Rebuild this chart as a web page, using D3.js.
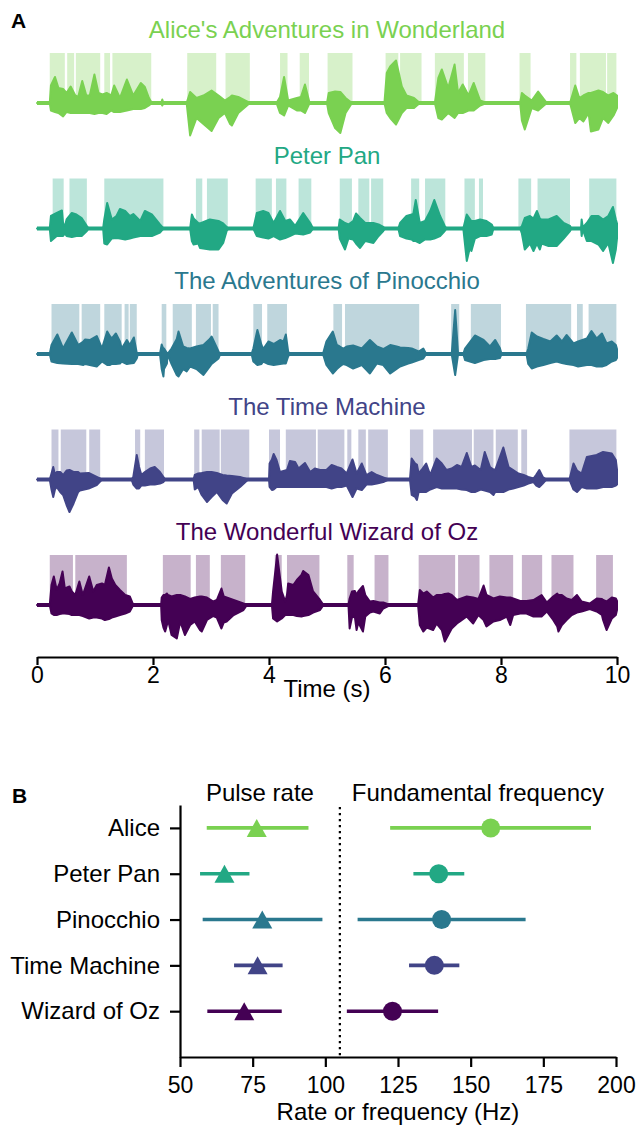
<!DOCTYPE html>
<html>
<head>
<meta charset="utf-8">
<script src="https://cdn.jsdelivr.net/npm/d3@7"></script>
<style>
  body { margin: 0; background: #fff; }
  svg { font-family: "Liberation Sans", Arial, sans-serif; }
</style>
</head>
<body>
<svg id="fig" width="637" height="1131"></svg>
<script>
// ---------- data ----------
const books = ["Alice's Adventures in Wonderland", "Peter Pan", "The Adventures of Pinocchio", "The Time Machine", "The Wonderful Wizard of Oz"];
const shortNames = ["Alice", "Peter Pan", "Pinocchio", "Time Machine", "Wizard of Oz"];
const colors = ["#7ad151", "#22a884", "#2a788e", "#414487", "#440154"];
const timeTicks = [0, 2, 4, 6, 8, 10];
const rateTicks = [50, 75, 100, 125, 150, 175, 200];

// voiced intervals (s)
const aliceSegments = [[0.22,0.49],[0.52,0.65],[0.67,1.10],[1.16,1.27],[1.30,1.98],[2.59,3.10],[3.25,3.68],[4.19,4.33],[4.53,4.70],[5.01,5.45],[6.01,6.24],[6.26,6.64],[6.86,7.37],[7.43,7.74],[8.32,8.52],[9.19,9.31],[9.36,9.82],[9.83,10.0]];
const peterSegments = [[0.27,0.47],[0.56,0.87],[1.16,2.19],[2.74,2.86],[2.93,3.30],[3.77,4.06],[4.12,4.31],[4.51,4.74],[5.22,5.44],[5.54,5.74],[5.76,5.98],[6.45,6.60],[6.69,7.05],[7.37,7.56],[7.62,7.70],[8.30,8.53],[8.63,9.20],[9.52,10.0]];
const pinocchioSegments = [[0.25,0.74],[0.77,1.10],[1.16,1.47],[1.51,1.59],[1.60,1.73],[2.15,2.24],[2.34,2.68],[2.74,3.01],[3.03,3.14],[3.73,3.89],[3.97,4.32],[5.11,5.27],[5.31,6.60],[7.14,7.29],[7.48,8.01],[8.43,9.22],[9.31,9.42],[9.51,10.0]];
const timeMachineSegments = [[0.25,0.38],[0.41,0.86],[0.90,1.10],[1.69,1.79],[1.86,2.20],[2.71,2.81],[2.84,3.16],[3.17,3.67],[4.00,4.20],[4.29,4.82],[4.84,5.31],[5.35,5.43],[5.54,5.68],[5.71,6.06],[6.43,6.67],[6.83,7.51],[7.53,7.88],[7.91,8.30],[8.35,8.46],[9.18,10.0]];
const ozSegments = [[0.22,0.63],[0.66,1.56],[2.17,2.66],[2.74,2.99],[3.17,3.60],[4.10,4.23],[4.31,4.88],[5.35,5.47],[5.82,6.07],[6.58,7.22],[7.26,7.64],[7.80,8.22],[8.36,8.72],[8.87,9.26],[9.64,9.94]];

// waveform envelopes: [time (s), upper amplitude, lower amplitude]
const aliceEnvelope = [[0,0,0],[0.22,0,0],[0.24,0.35,-0.15],[0.31,0.52,-0.18],[0.37,0.3,-0.2],[0.45,0.28,-0.27],[0.51,0.2,-0.18],[0.58,0.33,-0.2],[0.66,0.15,-0.2],[0.71,0.12,-0.2],[0.78,0.44,-0.2],[0.85,0.15,-0.2],[0.91,0.15,-0.2],[0.99,0.57,-0.22],[1.06,0.2,-0.2],[1.13,0.17,-0.2],[1.20,0.2,-0.22],[1.28,0.15,-0.15],[1.33,0.35,-0.18],[1.43,0.1,-0.18],[1.55,0.47,-0.15],[1.66,0.15,-0.12],[1.79,0.4,-0.12],[1.86,0.32,-0.1],[1.93,0.1,-0.05],[1.98,0,0],[2.14,0,0],[2.16,0.07,-0.05],[2.18,0,0],[2.58,0,0],[2.64,0.22,-0.65],[2.75,0.1,-0.3],[2.87,0.15,-0.42],[3.01,0.25,-0.56],[3.13,0.15,-0.3],[3.24,0.05,-0.2],[3.33,0.12,-0.42],[3.36,0.15,-0.45],[3.47,0.12,-0.2],[3.67,0,0],[4.13,0,0],[4.19,0.12,-0.2],[4.26,0.52,-0.25],[4.33,0.05,-0.05],[4.48,0.1,-0.15],[4.55,0.12,-0.15],[4.62,0.37,-0.2],[4.70,0,0],[5.0,0,0],[5.03,0.2,-0.2],[5.14,0.23,-0.5],[5.23,0.22,-0.6],[5.32,0.1,-0.2],[5.43,0,0],[5.99,0,0],[6.03,0.6,-0.2],[6.09,0.73,-0.3],[6.19,0.85,-0.43],[6.29,0.33,-0.2],[6.37,0.15,-0.1],[6.50,0.1,-0.1],[6.60,0,0],[6.86,0,0],[6.92,0.5,-0.3],[6.98,0.67,-0.33],[7.09,0.3,-0.2],[7.20,0.77,-0.3],[7.26,0.2,-0.2],[7.34,0.37,-0.2],[7.44,0.15,-0.15],[7.53,0.4,-0.15],[7.64,0.05,-0.05],[7.75,0,0],[8.33,0,0],[8.36,0.2,-0.35],[8.41,0.15,-0.53],[8.53,0.05,-0.1],[8.64,0.23,-0.15],[8.79,0,0],[9.19,0,0],[9.28,0.35,-0.4],[9.35,0.1,-0.3],[9.42,0.15,-0.37],[9.51,0.2,-0.2],[9.55,0.2,-0.57],[9.68,0.25,-0.53],[9.76,0.22,-0.3],[9.85,0.15,-0.4],[9.94,0.2,-0.25],[10,0.15,-0.1]];
const peterEnvelope = [[0,0,0],[0.22,0,0],[0.24,0.25,-0.25],[0.34,0.31,-0.15],[0.43,0.36,-0.15],[0.45,0.1,-0.15],[0.48,0.05,-0.1],[0.51,0.18,-0.15],[0.60,0.31,-0.17],[0.68,0.28,-0.15],[0.77,0.21,-0.15],[0.86,0.05,-0.05],[0.89,0,0],[1.14,0,0],[1.16,0.18,-0.3],[1.21,0.51,-0.32],[1.29,0.18,-0.2],[1.37,0.25,-0.19],[1.43,0.39,-0.2],[1.52,0.35,-0.22],[1.60,0.25,-0.2],[1.66,0.29,-0.18],[1.78,0.15,-0.15],[1.86,0.35,-0.15],[1.98,0.28,-0.15],[2.12,0.08,-0.08],[2.18,0,0],[2.64,0,0],[2.67,0.28,-0.25],[2.70,0.2,-0.32],[2.78,0.11,-0.3],[2.81,0.1,-0.39],[2.98,0.18,-0.42],[3.13,0.15,-0.42],[3.21,0.1,-0.29],[3.27,0.03,-0.05],[3.30,0,0],[3.73,0,0],[3.79,0.31,-0.15],[3.90,0.35,-0.18],[3.99,0.31,-0.2],[4.08,0.11,-0.15],[4.19,0.35,-0.22],[4.28,0.15,-0.19],[4.36,0.18,-0.15],[4.45,0.05,-0.1],[4.59,0.31,-0.12],[4.71,0.11,-0.08],[4.76,0,0],[5.20,0,0],[5.22,0.18,-0.2],[5.31,0.11,-0.42],[5.37,0.08,-0.2],[5.45,0.15,-0.22],[5.50,0.3,-0.3],[5.57,0.21,-0.39],[5.66,0.11,-0.25],[5.80,0.11,-0.29],[5.89,0.08,-0.15],[5.97,0.03,-0.05],[6.00,0,0],[6.23,0,0],[6.26,0.11,-0.15],[6.37,0.25,-0.2],[6.46,0.28,-0.22],[6.49,0.3,-0.25],[6.53,0.57,-0.25],[6.60,0.11,-0.29],[6.69,0.15,-0.22],[6.78,0.35,-0.22],[6.85,0.57,-0.2],[6.95,0.25,-0.15],[7.03,0.05,-0.05],[7.06,0,0],[7.35,0,0],[7.41,0.28,-0.65],[7.47,0.18,-0.35],[7.49,0.15,-0.45],[7.55,0.15,-0.2],[7.64,0.18,-0.15],[7.75,0.15,-0.15],[7.84,0.08,-0.12],[7.87,0,0],[8.33,0,0],[8.36,0.05,-0.1],[8.41,0.21,-0.42],[8.50,0.25,-0.3],[8.56,0.2,-0.45],[8.62,0.35,-0.3],[8.67,0.2,-0.42],[8.70,0.18,-0.3],[8.82,0.18,-0.35],[8.96,0.25,-0.35],[9.08,0.11,-0.2],[9.19,0.05,-0.05],[9.21,0,0],[9.38,0,0],[9.39,0.18,-0.15],[9.41,0.02,-0.02],[9.48,0.11,-0.25],[9.56,0.25,-0.25],[9.68,0.25,-0.32],[9.76,0.18,-0.45],[9.85,0.25,-0.29],[9.93,0.43,-0.69],[9.98,0.18,-0.42],[10,0.1,-0.2]];
const pinocchioEnvelope = [[0,0,0],[0.22,0,0],[0.25,0.18,-0.15],[0.35,0.39,-0.18],[0.45,0.11,-0.19],[0.60,0.43,-0.2],[0.71,0.18,-0.2],[0.80,0.25,-0.22],[0.83,0.29,-0.2],[0.91,0.28,-0.22],[1.03,0.36,-0.25],[1.12,0.11,-0.15],[1.21,0.45,-0.22],[1.26,0.35,-0.22],[1.29,0.31,-0.2],[1.36,0.41,-0.2],[1.43,0.25,-0.19],[1.46,0.11,-0.15],[1.55,0.28,-0.2],[1.60,0.18,-0.19],[1.67,0.33,-0.18],[1.72,0.02,-0.09],[1.74,0,0],[2.12,0,0],[2.15,0.19,-0.3],[2.18,0.1,-0.45],[2.19,0.11,-0.3],[2.24,0.02,-0.19],[2.25,0,0],[2.32,0.11,-0.2],[2.41,0.3,-0.42],[2.44,0.45,-0.45],[2.52,0.15,-0.3],[2.58,0.12,-0.35],[2.64,0.11,-0.25],[2.75,0.15,-0.3],[2.87,0.18,-0.42],[2.98,0.3,-0.25],[3.01,0.35,-0.2],[3.13,0.05,-0.09],[3.16,0,0],[3.70,0,0],[3.73,0.11,-0.15],[3.80,0.48,-0.22],[3.87,0.18,-0.2],[3.90,0.1,-0.15],[3.99,0.25,-0.2],[4.08,0.2,-0.22],[4.19,0.28,-0.2],[4.25,0.25,-0.19],[4.29,0.39,-0.19],[4.33,0.05,-0.05],[4.36,0,0],[4.93,0,0],[4.99,0.25,-0.22],[5.10,0.45,-0.39],[5.17,0.18,-0.3],[5.22,0.15,-0.25],[5.28,0.11,-0.2],[5.34,0.15,-0.22],[5.45,0.17,-0.29],[5.60,0.11,-0.22],[5.74,0.28,-0.39],[5.86,0.15,-0.19],[5.97,0.1,-0.22],[6.09,0.18,-0.39],[6.20,0.15,-0.3],[6.26,0.13,-0.25],[6.40,0.12,-0.19],[6.46,0.11,-0.17],[6.58,0.05,-0.12],[6.66,0.11,-0.09],[6.71,0,0],[7.15,0,0],[7.21,0.88,-0.42],[7.26,0,0],[7.35,0,0],[7.38,0.11,-0.12],[7.55,0.37,-0.18],[7.70,0.28,-0.12],[7.81,0.15,-0.1],[7.90,0.28,-0.1],[7.98,0.12,-0.08],[8.01,0,0],[8.44,0,0],[8.47,0.11,-0.2],[8.53,0.43,-0.29],[8.62,0.35,-0.25],[8.73,0.3,-0.22],[8.85,0.25,-0.18],[8.96,0.37,-0.15],[9.05,0.25,-0.18],[9.13,0.38,-0.2],[9.25,0.21,-0.22],[9.33,0.25,-0.25],[9.48,0.31,-0.22],[9.56,0.46,-0.22],[9.65,0.31,-0.25],[9.74,0.41,-0.25],[9.82,0.21,-0.22],[9.91,0.25,-0.15],[9.98,0.18,-0.12],[10,0.1,-0.08]];
const timeMachineEnvelope = [[0,0,0],[0.22,0,0],[0.25,0.12,-0.2],[0.28,0.25,-0.35],[0.31,0.09,-0.2],[0.34,0.15,-0.15],[0.40,0.15,-0.25],[0.45,0.09,-0.31],[0.51,0.18,-0.51],[0.56,0.19,-0.65],[0.63,0.15,-0.48],[0.71,0.15,-0.25],[0.74,0.12,-0.22],[0.89,0.13,-0.18],[1.03,0.05,-0.11],[1.12,0,0],[1.63,0,0],[1.66,0.05,-0.1],[1.72,0.49,-0.18],[1.76,0.25,-0.18],[1.80,0.09,-0.12],[1.86,0.15,-0.12],[1.95,0.22,-0.1],[2.03,0.25,-0.1],[2.12,0.15,-0.08],[2.18,0.05,-0.05],[2.21,0,0],[2.70,0,0],[2.72,0.09,-0.2],[2.78,0.12,-0.15],[2.84,0.13,-0.31],[2.93,0.15,-0.45],[3.01,0.15,-0.35],[3.10,0.13,-0.25],[3.20,0.09,-0.41],[3.27,0.08,-0.48],[3.36,0.07,-0.28],[3.50,0.05,-0.15],[3.64,0,0],[4.00,0,0],[4.01,0.32,-0.15],[4.05,0.4,-0.21],[4.08,0.51,-0.2],[4.13,0.39,-0.15],[4.19,0.15,-0.15],[4.31,0.19,-0.15],[4.36,0.37,-0.15],[4.45,0.35,-0.15],[4.51,0.22,-0.15],[4.62,0.33,-0.15],[4.71,0.15,-0.15],[4.79,0.22,-0.15],[4.88,0.19,-0.15],[4.99,0.19,-0.15],[5.08,0.29,-0.18],[5.17,0.25,-0.15],[5.25,0.22,-0.15],[5.34,0.12,-0.12],[5.44,0.4,-0.35],[5.51,0.12,-0.18],[5.60,0.32,-0.21],[5.68,0.09,-0.1],[5.77,0.15,-0.1],[5.86,0.09,-0.08],[5.97,0.04,-0.05],[6.06,0,0],[6.43,0,0],[6.46,0.42,-0.31],[6.52,0.32,-0.35],[6.55,0.3,-0.41],[6.58,0.12,-0.25],[6.63,0.19,-0.25],[6.71,0.32,-0.25],[6.78,0.09,-0.2],[6.89,0.42,-0.15],[6.98,0.32,-0.18],[7.06,0.19,-0.18],[7.15,0.22,-0.18],[7.24,0.29,-0.18],[7.32,0.25,-0.2],[7.41,0.53,-0.21],[7.49,0.25,-0.25],[7.55,0.28,-0.25],[7.65,0.19,-0.2],[7.72,0.55,-0.22],[7.81,0.25,-0.25],[7.87,0.2,-0.31],[7.90,0.19,-0.25],[8.04,0.64,-0.25],[8.13,0.25,-0.2],[8.21,0.19,-0.18],[8.30,0.12,-0.15],[8.39,0.09,-0.12],[8.47,0.05,-0.08],[8.56,0.02,-0.05],[8.61,0.1,-0.12],[8.66,0.19,-0.15],[8.72,0.05,-0.08],[8.78,0,0],[9.18,0,0],[9.25,0.32,-0.2],[9.31,0.18,-0.25],[9.39,0.12,-0.15],[9.48,0.45,-0.18],[9.65,0.49,-0.18],[9.76,0.55,-0.15],[9.91,0.52,-0.15],[9.98,0.39,-0.12],[10,0.2,-0.1]];
const ozEnvelope = [[0,0,0],[0.22,0,0],[0.25,0.4,-0.17],[0.29,0.57,-0.2],[0.34,0.3,-0.2],[0.39,0.43,-0.18],[0.44,0.67,-0.17],[0.48,0.33,-0.17],[0.56,0.37,-0.18],[0.60,0.27,-0.2],[0.66,0.2,-0.2],[0.73,0.47,-0.2],[0.79,0.2,-0.22],[0.90,0.57,-0.27],[0.97,0.27,-0.25],[1.03,0.4,-0.25],[1.12,0.43,-0.27],[1.17,0.4,-0.3],[1.24,0.75,-0.28],[1.29,0.53,-0.25],[1.35,0.4,-0.23],[1.43,0.3,-0.2],[1.52,0.2,-0.17],[1.60,0.17,-0.13],[1.66,0,0],[2.14,0,0],[2.15,0.15,-0.3],[2.18,0.2,-0.45],[2.21,0.2,-0.53],[2.24,0.23,-0.4],[2.26,0.2,-0.3],[2.32,0.17,-0.6],[2.41,0.2,-0.67],[2.47,0.2,-0.33],[2.55,0.17,-0.6],[2.64,0.12,-0.4],[2.72,0.15,-0.33],[2.81,0.17,-0.5],[2.84,0.17,-0.53],[2.93,0.15,-0.3],[3.04,0.07,-0.22],[3.10,0.1,-0.25],[3.18,0.33,-0.47],[3.22,0.17,-0.35],[3.27,0.15,-0.33],[3.39,0.1,-0.2],[3.56,0.03,-0.1],[3.62,0,0],[4.05,0,0],[4.07,0.27,-0.27],[4.14,1.01,-0.33],[4.22,0.27,-0.27],[4.28,0.07,-0.2],[4.31,0.2,-0.2],[4.33,0.43,-0.2],[4.42,0.4,-0.2],[4.48,0.5,-0.22],[4.56,0.6,-0.23],[4.59,0.68,-0.22],[4.68,0.6,-0.2],[4.76,0.27,-0.15],[4.88,0.1,-0.1],[4.94,0,0],[5.37,0,0],[5.39,0.13,-0.47],[5.43,0.27,-0.25],[5.48,0.28,-0.23],[5.51,0.2,-0.5],[5.54,0.27,-0.35],[5.62,0.38,-0.53],[5.66,0.2,-0.23],[5.74,0.07,-0.15],[5.80,0.08,-0.13],[5.91,0.05,-0.17],[5.97,0.05,-0.07],[6.09,0,0],[6.57,0,0],[6.60,0.3,-0.4],[6.66,0.23,-0.53],[6.72,0.27,-0.45],[6.83,0.15,-0.5],[6.89,0.2,-0.37],[6.98,0.2,-0.5],[7.03,0.22,-0.73],[7.09,0.23,-0.6],[7.15,0.2,-0.47],[7.24,0.1,-0.37],[7.29,0.12,-0.33],[7.41,0.17,-0.23],[7.52,0.15,-0.37],[7.61,0.12,-0.2],[7.70,0.39,-0.3],[7.75,0.2,-0.43],[7.87,0.13,-0.33],[7.98,0.17,-0.3],[8.10,0.15,-0.23],[8.16,0.15,-0.4],[8.21,0.13,-0.2],[8.33,0.08,-0.17],[8.44,0.08,-0.17],[8.56,0.1,-0.23],[8.70,0.2,-0.23],[8.79,0.05,-0.13],[8.90,0.17,-0.3],[8.97,0.23,-0.43],[8.99,0.2,-0.53],[9.05,0.2,-0.4],[9.13,0.13,-0.3],[9.22,0.1,-0.2],[9.31,0.2,-0.15],[9.39,0.07,-0.13],[9.53,0.03,-0.08],[9.65,0.13,-0.13],[9.74,0.12,-0.2],[9.76,0.1,-0.3],[9.82,0.07,-0.5],[9.91,0.15,-0.27],[9.98,0.13,-0.2],[10,0.08,-0.1]];

// panel B: mean and interval per book (Hz)
const pulseRate = [76.4, 65.3, 78.3, 76.7, 72.1];
const pulseLow  = [59.2, 56.9, 57.8, 68.6, 59.4];
const pulseHigh = [94.2, 73.9, 99.0, 85.3, 85.0];
const f0Mean = [156.9, 139.0, 140.0, 137.5, 123.1];
const f0Low  = [122.3, 130.3, 111.1, 128.8, 107.4];
const f0High = [191.4, 147.8, 168.9, 146.1, 138.8];
const rangeSplit = 105;

const segments = [aliceSegments, peterSegments, pinocchioSegments, timeMachineSegments, ozSegments];
const envelopes = [aliceEnvelope, peterEnvelope, pinocchioEnvelope, timeMachineEnvelope, ozEnvelope];

// ---------- drawing ----------
const svg = d3.select("#fig");
const labelSize = 24;
const tickSize = 23;

// Panel A: waveforms
const xTime = d3.scaleLinear().domain([0, 10]).range([37, 617]);
const rowY = d3.scalePoint().domain(books).range([103, 605]);
const amp = d3.scaleLinear().domain([-1, 1]).range([50, -50]);

const waveArea = d3.area()
  .x(d => xTime(d[0]))
  .y0(d => amp(d[2]))
  .y1(d => amp(d[1]));

books.forEach((b, i) => {
  const g = svg.append("g").attr("transform", `translate(0,${rowY(b)})`);
  g.selectAll("rect").data(segments[i]).join("rect")
    .attr("x", d => xTime(d[0]))
    .attr("width", d => xTime(d[1]) - xTime(d[0]) - 0.6)
    .attr("y", amp(1))
    .attr("height", amp(0) - amp(1))
    .attr("fill", colors[i])
    .attr("fill-opacity", 0.3);
  g.append("line")
    .attr("x1", xTime(0)).attr("x2", xTime(10))
    .attr("y1", amp(0)).attr("y2", amp(0))
    .attr("stroke", colors[i]).attr("stroke-width", 4);
  g.append("path")
    .datum(envelopes[i])
    .attr("d", waveArea)
    .attr("fill", colors[i])
    .attr("stroke", colors[i])
    .attr("stroke-width", 2)
    .attr("stroke-linejoin", "round");
  g.append("text")
    .attr("x", xTime(5))
    .attr("y", -65)
    .attr("text-anchor", "middle")
    .attr("font-size", labelSize)
    .attr("fill", colors[i])
    .text(b);
});

const axA = svg.append("g")
  .attr("transform", "translate(0,657)")
  .call(d3.axisBottom(xTime).tickValues(timeTicks).tickFormat(d3.format("d"))
    .tickSize(8).tickSizeOuter(0).tickPadding(2));
axA.select(".domain").attr("stroke-width", 2.2);
axA.selectAll(".tick line").attr("stroke-width", 2.2);
axA.selectAll("text").attr("font-size", tickSize).attr("font-family", null).attr("fill", "#000");

svg.append("text").attr("x", xTime(5)).attr("y", 697)
  .attr("text-anchor", "middle").attr("font-size", labelSize).text("Time (s)");

svg.append("text").attr("x", 11).attr("y", 28)
  .attr("font-size", 21).attr("font-weight", "bold").text("A");

// Panel B: rates
const xRate = d3.scaleLinear().domain([50, 200]).range([180, 616]);
const yRow = d3.scaleLinear().domain([-0.5, 5]).range([805, 1057]);

const axBx = svg.append("g")
  .attr("transform", "translate(0,1057)")
  .call(d3.axisBottom(xRate).tickValues(rateTicks).tickSize(10).tickSizeOuter(0).tickPadding(10));
const axBy = svg.append("g")
  .attr("transform", "translate(180,0)")
  .call(d3.axisLeft(yRow).tickValues(d3.range(shortNames.length))
    .tickFormat(i => shortNames[i]).tickSize(10).tickSizeOuter(0).tickPadding(10));
[axBx, axBy].forEach(a => {
  a.select(".domain").attr("stroke-width", 2.2);
  a.selectAll(".tick line").attr("stroke-width", 2.2);
  a.selectAll("text").attr("font-family", null).attr("fill", "#000");
});
axBx.selectAll("text").attr("font-size", tickSize);
axBy.selectAll("text").attr("font-size", labelSize);

svg.append("line")
  .attr("x1", xRate(rangeSplit)).attr("x2", xRate(rangeSplit))
  .attr("y1", 807).attr("y2", 1056)
  .attr("stroke", "#000").attr("stroke-width", 2.2)
  .attr("stroke-dasharray", "2.2,3.8");

svg.append("text").attr("x", xRate((50 + rangeSplit) / 2)).attr("y", 801)
  .attr("text-anchor", "middle").attr("font-size", labelSize).text("Pulse rate");
svg.append("text").attr("x", xRate((rangeSplit + 200) / 2)).attr("y", 801)
  .attr("text-anchor", "middle").attr("font-size", labelSize).text("Fundamental frequency");

const rows = shortNames.map((n, i) => ({ i, n }));
const gB = svg.append("g");
// error bars
gB.selectAll(".pr-bar").data(rows).join("line").attr("class", "pr-bar")
  .attr("x1", d => xRate(pulseLow[d.i])).attr("x2", d => xRate(pulseHigh[d.i]))
  .attr("y1", d => yRow(d.i)).attr("y2", d => yRow(d.i))
  .attr("stroke", d => colors[d.i]).attr("stroke-width", 3.6);
gB.selectAll(".f0-bar").data(rows).join("line").attr("class", "f0-bar")
  .attr("x1", d => xRate(f0Low[d.i])).attr("x2", d => xRate(f0High[d.i]))
  .attr("y1", d => yRow(d.i)).attr("y2", d => yRow(d.i))
  .attr("stroke", d => colors[d.i]).attr("stroke-width", 3.6);
// triangle markers, centred on their bounding box
const triUp = { draw(ctx, size) { const w = Math.sqrt(size); ctx.moveTo(0, -0.45 * w); ctx.lineTo(0.5 * w, 0.45 * w); ctx.lineTo(-0.5 * w, 0.45 * w); ctx.closePath(); } };
gB.selectAll(".pr-mark").data(rows).join("path").attr("class", "pr-mark")
  .attr("transform", d => `translate(${xRate(pulseRate[d.i])},${yRow(d.i)})`)
  .attr("d", d3.symbol().type(triUp).size(400))
  .attr("fill", d => colors[d.i]);
gB.selectAll(".f0-mark").data(rows).join("circle").attr("class", "f0-mark")
  .attr("cx", d => xRate(f0Mean[d.i])).attr("cy", d => yRow(d.i))
  .attr("r", 9.5).attr("fill", d => colors[d.i]);

svg.append("text").attr("x", (xRate(50) + xRate(200)) / 2).attr("y", 1120)
  .attr("text-anchor", "middle").attr("font-size", labelSize).text("Rate or frequency (Hz)");

svg.append("text").attr("x", 12).attr("y", 803)
  .attr("font-size", 21).attr("font-weight", "bold").text("B");
</script>
</body>
</html>
